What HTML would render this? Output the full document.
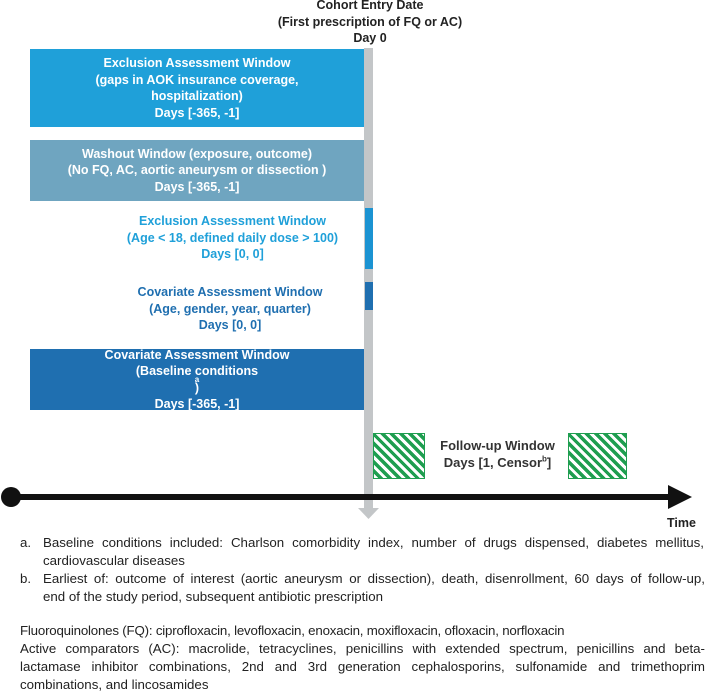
<!DOCTYPE html>
<html><head><meta charset="utf-8"><style>
body{margin:0;width:709px;height:690px;position:relative;background:#fff;font-family:"Liberation Sans",Arial,sans-serif;overflow:hidden}
.a{position:absolute}
.box{position:absolute;left:30px;width:334px;color:#fff;font-weight:bold;font-size:12.5px;line-height:16.5px;text-align:center;display:flex;flex-direction:column;justify-content:center}
.t{position:absolute;font-weight:bold;font-size:12.5px;line-height:16.5px;text-align:center}
.fn{position:absolute;font-size:13.3px;line-height:18px;color:#222;white-space:nowrap}
.j{text-align:justify;text-align-last:justify;white-space:normal}
.hatch{position:absolute;border:1.5px solid #1f9e50;box-sizing:border-box;background:repeating-linear-gradient(45deg,#fff 0 3px,#1f9e50 3px 6.5px)}
</style></head><body>
<div class="t" style="left:250px;top:-3px;width:240px;color:#222">Cohort Entry Date<br>(First prescription of FQ or AC)<br>Day 0</div>
<div class="a" style="left:364px;top:48px;width:9px;height:462px;background:#c3c6c8"></div>
<svg class="a" style="left:358px;top:508px" width="22" height="12"><polygon points="0,0 21,0 10.5,11" fill="#c3c6c8"/></svg>
<div class="box" style="top:49px;height:78px;background:#1fa0d9">Exclusion Assessment Window<br>(gaps in AOK insurance coverage,<br>hospitalization)<br>Days [-365, -1]</div>
<div class="box" style="top:140px;height:61px;background:#6fa5c0">Washout Window (exposure, outcome)<br>(No FQ, AC, aortic aneurysm or dissection )<br>Days [-365, -1]</div>
<div class="a" style="left:365px;top:208px;width:8px;height:61px;background:#1b93d2"></div>
<div class="t" style="left:100px;top:213px;width:265px;color:#1fa0d9">Exclusion Assessment Window<br>(Age &lt; 18, defined daily dose &gt; 100)<br>Days [0, 0]</div>
<div class="a" style="left:365px;top:282px;width:8px;height:28px;background:#1f6fb0"></div>
<div class="t" style="left:100px;top:284px;width:260px;color:#1f6fb0">Covariate Assessment Window<br>(Age, gender, year, quarter)<br>Days [0, 0]</div>
<div class="box" style="top:349px;height:61px;background:#1f6fb0">Covariate Assessment Window<br>(Baseline conditions<sup style="font-size:8px;line-height:0">a</sup>)<br>Days [-365, -1]</div>
<div class="hatch" style="left:373px;top:433px;width:52px;height:46px"></div>
<div class="hatch" style="left:568px;top:433px;width:59px;height:46px"></div>
<div class="t" style="left:430px;top:438px;width:135px;color:#333;font-size:13px">Follow-up Window<br>Days [1, Censor<sup style="font-size:8px;line-height:0">b</sup>]</div>
<svg class="a" style="left:0;top:480px" width="709" height="36"><circle cx="11" cy="17" r="10" fill="#111"/><rect x="11" y="14" width="660" height="6" fill="#111"/><polygon points="668,5 692,17 668,29" fill="#111"/></svg>
<div class="fn" style="left:667px;top:514px;font-weight:bold;font-size:12.5px">Time</div>
<div class="fn" style="left:20px;top:534px">a.</div>
<div class="fn j" style="left:43px;top:534px;width:661px">Baseline conditions included: Charlson comorbidity index, number of drugs dispensed, diabetes mellitus,</div>
<div class="fn" style="left:43px;top:552px">cardiovascular diseases</div>
<div class="fn" style="left:20px;top:570px">b.</div>
<div class="fn j" style="left:43px;top:570px;width:662px">Earliest of: outcome of interest (aortic aneurysm or dissection), death, disenrollment, 60 days of follow-up,</div>
<div class="fn" style="left:43px;top:588px">end of the study period, subsequent antibiotic prescription</div>
<div class="fn" style="left:20px;top:622px;letter-spacing:-0.2px">Fluoroquinolones (FQ): ciprofloxacin, levofloxacin, enoxacin, moxifloxacin, ofloxacin, norfloxacin</div>
<div class="fn j" style="left:20px;top:640px;width:685px">Active comparators (AC): macrolide, tetracyclines, penicillins with extended spectrum, penicillins and beta-</div>
<div class="fn j" style="left:20px;top:658px;width:685px">lactamase inhibitor combinations, 2nd and 3rd generation cephalosporins, sulfonamide and trimethoprim</div>
<div class="fn" style="left:20px;top:676px">combinations, and lincosamides</div>
</body></html>
